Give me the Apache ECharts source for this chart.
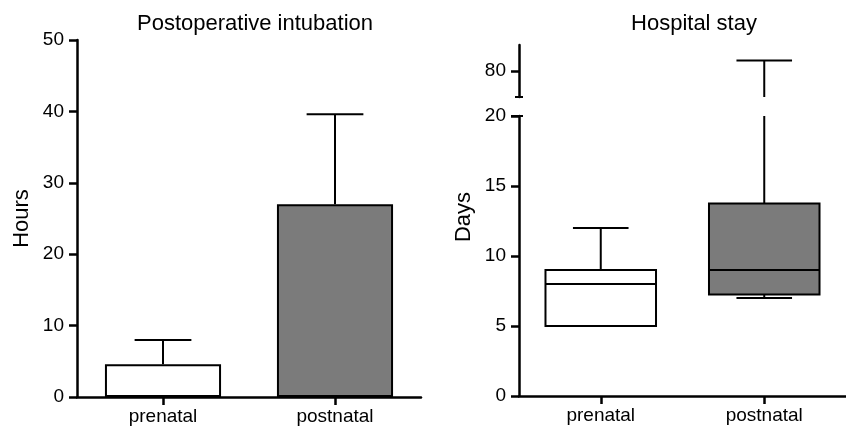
<!DOCTYPE html>
<html lang="en">
<head>
  <meta charset="UTF-8">
  <title>Intubation and hospital stay</title>
  <style>
    #container, html, body {
      margin: 0;
      padding: 0;
      height: 100%;
      width: 100%;
      background: #fff;
    }
  </style>
</head>
<body>
  <div id="container"></div>
</body>
<script src="https://cdn.jsdelivr.net/npm/echarts@6/dist/echarts.min.js"></script>
<script>
  // data
  var groups = ['prenatal', 'postnatal']
  var fills = ['#ffffff', '#7b7b7b']

  // postoperative intubation (hours): mean and upper error bar
  var intubationMean = [4.6, 27]
  var intubationUpper = [8, 39.6]

  // hospital stay (days): box plot values
  var stayMin = [5, 7]
  var stayQ1 = [5, 7.25]
  var stayMedian = [8, 9]
  var stayQ3 = [9, 13.75]
  var stayMax = [12, 84]

  var font = 'Liberation Sans, Arial, Helvetica, sans-serif'
  var ink = '#000'

  window.onload = function () {
    var chart = echarts.init(document.querySelector('#container'))

    var catAxis = function (gridIndex, show) {
      return {
        type: 'category',
        gridIndex: gridIndex,
        data: groups,
        show: show,
        axisLine: {show: true, lineStyle: {color: ink, width: 2.5}},
        axisTick: {show: true, alignWithLabel: true, length: 8, lineStyle: {color: ink, width: 2.5}},
        axisLabel: {color: ink, fontSize: 19, fontFamily: font, margin: 10}
      }
    }
    var valAxis = function (gridIndex, min, max, interval) {
      return {
        type: 'value',
        gridIndex: gridIndex,
        min: min,
        max: max,
        interval: interval,
        splitLine: {show: false},
        axisLine: {show: true, lineStyle: {color: ink, width: 2.5}},
        axisTick: {show: true, length: 8, lineStyle: {color: ink, width: 2.5}},
        axisLabel: {color: ink, fontSize: 19, fontFamily: font, margin: 13}
      }
    }

    var hoursAxis = valAxis(0, 0, 50, 10)
    hoursAxis.name = 'Hours'
    hoursAxis.nameLocation = 'middle'
    hoursAxis.nameGap = 44
    hoursAxis.nameTextStyle = {color: ink, fontSize: 22, fontFamily: font}

    var upperAxis = valAxis(2, 70, 90, 10)
    upperAxis.axisTick.customValues = [80]
    upperAxis.axisLabel.customValues = [80]

    var line = function (x1, y1, x2, y2) {
      return {type: 'line', shape: {x1: x1, y1: y1, x2: x2, y2: y2},
        style: {stroke: ink, lineWidth: 2}}
    }

    // error bar above each bar (upper side only)
    var renderErr = function (params, api) {
      var i = api.value(0)
      var base = api.coord([i, api.value(1)])
      var top = api.coord([i, api.value(2)])
      var cap = api.size([1, 0])[0] * 0.165
      return {type: 'group', children: [
        line(base[0], base[1], top[0], top[1]),
        line(top[0] - cap, top[1], top[0] + cap, top[1])
      ]}
    }

    // box and whiskers, clipped to its grid so the broken axis splits it
    var renderBox = function (params, api) {
      var i = api.value(0)
      var x = api.coord([i, 0])[0]
      var band = api.size([1, 0])[0]
      var half = band * 0.338
      var cap = band * 0.17
      var y = function (dim) { return api.coord([i, api.value(dim)])[1] }
      var yMin = y(1), yQ1 = y(2), yMed = y(3), yQ3 = y(4), yMax = y(5)
      var cs = params.coordSys
      return {
        type: 'group',
        clipPath: {type: 'rect', shape: {x: cs.x - 10, y: cs.y, width: cs.width + 20, height: cs.height}},
        children: [
          line(x, yQ3, x, yMax),
          line(x - cap, yMax, x + cap, yMax),
          line(x, yQ1, x, yMin),
          line(x - cap, yMin, x + cap, yMin),
          {type: 'rect', shape: {x: x - half, y: yQ3, width: half * 2, height: yQ1 - yQ3},
            style: {fill: fills[i], stroke: ink, lineWidth: 2}},
          line(x - half, yMed, x + half, yMed)
        ]
      }
    }

    // small marks at the axis break
    var renderBreak = function (params, api) {
      if (params.dataIndex !== 0) return
      var cs = params.coordSys
      if (params.seriesIndex === 5) {
        return line(cs.x - 4, cs.y + cs.height, cs.x + 4, cs.y + cs.height)
      }
      return line(cs.x - 8, cs.y, cs.x + 4, cs.y)
    }

    var boxData = groups.map(function (g, i) {
      return [i, stayMin[i], stayQ1[i], stayMedian[i], stayQ3[i], stayMax[i]]
    })

    var option = {
      animation: false,
      title: [
        {text: 'Postoperative intubation', left: 250, top: 8, textAlign: 'center',
          textStyle: {color: ink, fontSize: 22, fontWeight: 'normal', fontFamily: font}},
        {text: 'Hospital stay', left: 689, top: 8, textAlign: 'center',
          textStyle: {color: ink, fontSize: 22, fontWeight: 'normal', fontFamily: font}}
      ],
      graphic: [
        {type: 'text', x: 464, y: 217, rotation: Math.PI / 2,
          style: {text: 'Days', fill: ink, fontSize: 22, fontFamily: font,
            textAlign: 'center', textVerticalAlign: 'middle'}}
      ],
      grid: [
        {left: 77, top: 40, width: 344, height: 357},
        {left: 519, top: 116, width: 340, height: 280},
        {left: 519, top: 45, width: 340, height: 52}
      ],
      xAxis: [catAxis(0, true), catAxis(1, true), catAxis(2, false)],
      yAxis: [hoursAxis, valAxis(1, 0, 20, 5), upperAxis],
      series: [
        {
          type: 'bar',
          xAxisIndex: 0,
          yAxisIndex: 0,
          barWidth: '67.5%',
          data: intubationMean.map(function (v, i) {
            return {value: v, itemStyle: {color: fills[i], borderColor: ink, borderWidth: 2}}
          }),
          z: 2
        },
        {
          type: 'custom',
          xAxisIndex: 0,
          yAxisIndex: 0,
          renderItem: renderErr,
          encode: {x: 0, y: [1, 2]},
          data: groups.map(function (g, i) { return [i, intubationMean[i], intubationUpper[i]] }),
          z: 3
        },
        {
          type: 'custom',
          xAxisIndex: 1,
          yAxisIndex: 1,
          renderItem: renderBox,
          encode: {x: 0, y: [1, 2, 3, 4, 5]},
          data: boxData
        },
        {
          type: 'custom',
          xAxisIndex: 2,
          yAxisIndex: 2,
          renderItem: renderBox,
          encode: {x: 0, y: [1, 2, 3, 4, 5]},
          data: boxData
        },
        {
          type: 'custom',
          xAxisIndex: 1,
          yAxisIndex: 1,
          renderItem: renderBreak,
          data: [[0, 0]],
          z: 5
        },
        {
          type: 'custom',
          xAxisIndex: 2,
          yAxisIndex: 2,
          renderItem: renderBreak,
          data: [[0, 80]],
          z: 5
        }
      ]
    }
    chart.setOption(option)
    window.onresize = chart.resize
  }
</script>
</html>
